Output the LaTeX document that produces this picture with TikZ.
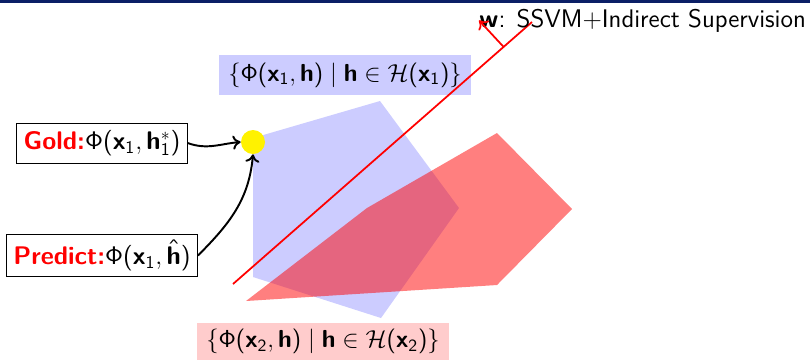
\RequirePackage{fix-cm}
\documentclass[tikz,border=0pt]{standalone}
\usepackage{amsmath}
\usepackage{tikz}
\usetikzlibrary{arrows.meta,positioning,calc}
\renewcommand{\familydefault}{\sfdefault}
\DeclareSymbolFont{operators}{OT1}{cmss}{m}{n}
\SetSymbolFont{operators}{bold}{OT1}{cmss}{bx}{n}
\DeclareMathAlphabet{\mathbsf}{OT1}{cmss}{bx}{n}
\definecolor{NavyBar}{HTML}{0B1F66}
\definecolor{PolyBlue}{HTML}{CCCCFF}
\definecolor{LightPink}{HTML}{FFCCCC}

\begin{document}
\begin{tikzpicture}[x=0.02cm,y=-0.02cm,
  featbox/.style={draw=black,fill=white,font=\fontsize{14.5}{17}\selectfont,
                  inner xsep=4pt,minimum height=0.8cm},
  setlabel/.style={font=\fontsize{14}{16}\selectfont,inner xsep=5pt,
                   minimum height=0.8cm},
  arrow/.style={-{To[length=4.5pt,width=8pt]},line width=1.1pt},
  hyper/.style={red,line width=1pt}
]
\useasboundingbox (0,0) rectangle (810,360);
\fill[NavyBar] (0,0) rectangle (810,3);

% feasible feature sets
\fill[PolyBlue] (253,138) -- (380,101) -- (459,208) -- (381,318) -- (253,277) -- cycle;
\fill[red,fill opacity=0.5] (246,301) -- (367,208) -- (497,133) -- (572,209) -- (497,285) -- cycle;

\node[setlabel,fill=PolyBlue] (set1) at (345,75)
  {$\{\Phi(\mathbsf{x}_1,\mathbsf{h}) \mid \mathbsf{h}\in\mathcal{H}(\mathbsf{x}_1)\}$};
\node[setlabel,fill=LightPink,minimum height=0.74cm] (set2) at (323,341.5)
  {$\{\Phi(\mathbsf{x}_2,\mathbsf{h}) \mid \mathbsf{h}\in\mathcal{H}(\mathbsf{x}_2)\}$};

\node[circle,fill=yellow,inner sep=0pt,minimum size=0.48cm] (dot) at (253,142) {};

\node[featbox] (gold) at (102,143)
  {\textcolor{red}{\textbf{Gold:}}$\Phi(\mathbsf{x}_1,\mathbsf{h}_1^*)$};
\node[featbox] (pred) at (102,255.5)
  {\textcolor{red}{\textbf{Predict:}}$\Phi(\mathbsf{x}_1,\hat{\mathbsf{h}})$};

\draw[arrow] (gold.east) to[out=-20,in=185] (dot.west);
\draw[arrow] (pred.east) to[out=45,in=-95] (dot.south);

% separating hyperplane and its normal
\coordinate (lo) at (233,284);
\coordinate (hi) at (532,22);
\draw[hyper] (lo) -- (hi);
\coordinate (foot) at ($(lo)!0.905!(hi)$);
\node[anchor=base west,inner sep=0pt,font=\fontsize{14.5}{17}\selectfont] (wlab) at (479,27)
  {$\mathbsf{w}$: SSVM+Indirect Supervision};
\draw[hyper,-{To[length=4.5pt,width=8pt]}] (foot) -- (wlab.west);
\end{tikzpicture}
\end{document}
